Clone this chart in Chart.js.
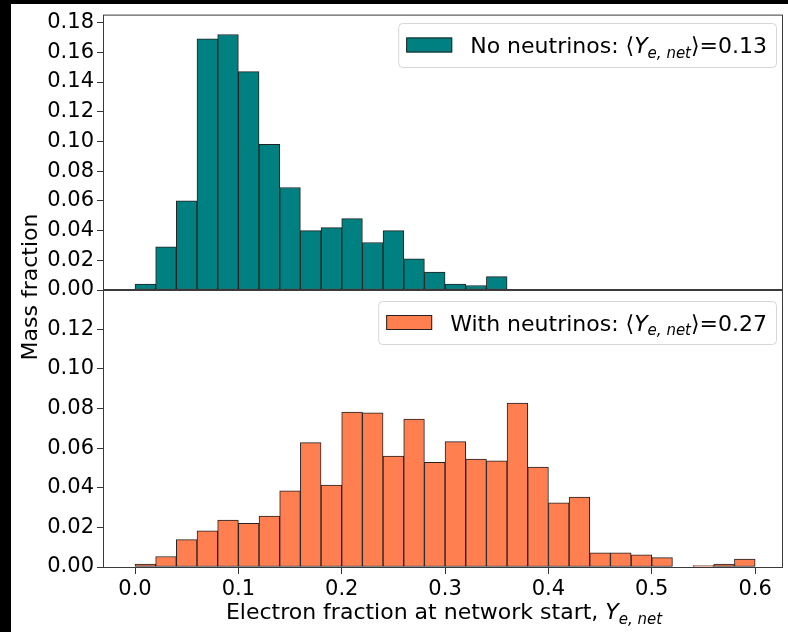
<!DOCTYPE html>
<html>
<head>
<meta charset="utf-8">
<script src="https://cdn.jsdelivr.net/npm/chart.js@4"></script>
<style>
  html, body { margin: 0; padding: 0; background: #fff; }
  #wrap { position: relative; width: 788px; height: 632px; overflow: hidden; background: #fff; }
  #wrap canvas { position: absolute; left: 0; top: 0; }
  .edge { position: absolute; background: #000; }
</style>
</head>
<body>
<div id="wrap">
  <div class="edge" style="left:0;top:0;width:11px;height:632px"></div>
  <div class="edge" style="left:0;top:0;width:788px;height:4px"></div>
  <canvas id="topChart" width="788" height="632"></canvas>
  <canvas id="bottomChart" width="788" height="632"></canvas>
</div>
<script>
// bin centres (bins are 0.02 wide, from 0.0 to 0.6)
const binCenters = [0.01, 0.03, 0.05, 0.07, 0.09, 0.11, 0.13, 0.15, 0.17, 0.19,
                    0.21, 0.23, 0.25, 0.27, 0.29, 0.31, 0.33, 0.35, 0.37, 0.39,
                    0.41, 0.43, 0.45, 0.47, 0.49, 0.51, 0.53, 0.55, 0.57, 0.59];

const noNeutrinos = [0.004, 0.029, 0.060, 0.169, 0.172, 0.147, 0.098, 0.069, 0.040, 0.042,
                     0.048, 0.032, 0.040, 0.021, 0.012, 0.004, 0.003, 0.009, 0, 0,
                     0, 0, 0, 0, 0, 0, 0, 0, 0, 0];

const withNeutrinos = [0.0015, 0.0053, 0.0138, 0.0182, 0.0237, 0.0220, 0.0257, 0.0385, 0.0628, 0.0413,
                       0.0782, 0.0778, 0.0560, 0.0746, 0.0528, 0.0633, 0.0545, 0.0536, 0.0827, 0.0504,
                       0.0324, 0.0353, 0.0071, 0.0071, 0.0062, 0.0047, 0, 0.0007, 0.0015, 0.0040];

const xTicks = [0.0, 0.1, 0.2, 0.3, 0.4, 0.5, 0.6];
const yTicksTop = [0.00, 0.02, 0.04, 0.06, 0.08, 0.10, 0.12, 0.14, 0.16, 0.18];
const yTicksBottom = [0.00, 0.02, 0.04, 0.06, 0.08, 0.10, 0.12];

const FONT = 'DejaVu Sans';

function toPoints(vals) {
    return binCenters.map((x, i) => ({ x: x, y: vals[i] }));
}

// "text ⟨Y_{e,net}⟩=val" pieces, like matplotlib mathtext
function mathParts(prefix, suffix) {
    return [
        { t: prefix }, { t: '⟨' }, { t: 'Y', it: true },
        { t: 'e, net', it: true, sub: true }, { t: '⟩' + suffix }
    ];
}

function partFont(p, size) {
    const s = p.sub ? Math.round(size * 0.7) : size;
    return (p.it ? 'italic ' : '') + s + 'px "' + FONT + '"';
}

function measureParts(ctx, parts, size) {
    let w = 0;
    parts.forEach(p => { ctx.font = partFont(p, size); w += ctx.measureText(p.t).width; });
    return w;
}

function drawParts(ctx, parts, x, y, size) {
    ctx.textAlign = 'left';
    ctx.textBaseline = 'alphabetic';
    parts.forEach(p => {
        ctx.font = partFont(p, size);
        ctx.fillText(p.t, x, p.sub ? y + size * 0.22 : y);
        x += ctx.measureText(p.t).width;
    });
}

function drawLegend(ctx, parts, color, boxTop, boxBottom) {
    const size = 22;
    const right = 776;
    const tw = measureParts(ctx, parts, size);
    const textX = right - 9 - tw;
    const patchX = textX - 18 - 46;
    const left = patchX - 8;
    ctx.save();
    ctx.beginPath();
    ctx.roundRect(left + 0.5, boxTop + 0.5, right - left, boxBottom - boxTop, 4);
    ctx.fillStyle = 'rgba(255,255,255,0.8)';
    ctx.fill();
    ctx.strokeStyle = '#d6d6d6';
    ctx.lineWidth = 1;
    ctx.stroke();
    const mid = (boxTop + boxBottom) / 2;
    ctx.fillStyle = color;
    ctx.fillRect(patchX, mid - 7.5, 46, 15);
    ctx.strokeStyle = '#222';
    ctx.strokeRect(patchX + 0.5, mid - 7.5 + 0.5, 45, 14);
    ctx.fillStyle = '#000';
    drawParts(ctx, parts, textX, mid + 8, size);
    ctx.restore();
}

const framePlugin = {
    id: 'frame',
    afterDatasetsDraw(chart) {
        const { ctx, chartArea: a } = chart;
        ctx.save();
        ctx.strokeStyle = '#3a3a3a';
        ctx.lineWidth = 1;
        ctx.strokeRect(a.left - 0.5, a.top - 0.5, a.right - a.left + 1, a.bottom - a.top + 1);
        ctx.restore();
    }
};

function histOptions(yMax, yTicks, padding, showX) {
    return {
        responsive: false,
        animation: false,
        devicePixelRatio: 1,
        layout: { padding: padding },
        plugins: { legend: { display: false }, tooltip: { enabled: false } },
        scales: {
            x: {
                type: 'linear',
                display: showX,
                offset: false,
                min: -0.03,
                max: 0.626,
                afterBuildTicks: s => { s.ticks = xTicks.map(v => ({ value: v })); },
                afterFit: s => { if (showX) s.height = 65; },
                ticks: {
                    color: '#000',
                    padding: 3,
                    maxRotation: 0,
                    autoSkip: false,
                    font: { family: FONT, size: 21 },
                    callback: v => v.toFixed(1)
                },
                grid: { offset: false, drawOnChartArea: false, tickLength: 7, color: '#333' },
                border: { display: false }
            },
            y: {
                min: 0,
                max: yMax,
                afterBuildTicks: s => { s.ticks = yTicks.map(v => ({ value: v })); },
                afterFit: s => { s.width = 104; },
                ticks: {
                    color: '#000',
                    padding: 3,
                    autoSkip: false,
                    font: { family: FONT, size: 21 },
                    callback: v => v.toFixed(2)
                },
                grid: { drawOnChartArea: false, tickLength: 7, color: '#333' },
                border: { display: false }
            }
        }
    };
}

function barDataset(label, vals, color) {
    return {
        label: label,
        data: toPoints(vals),
        backgroundColor: color,
        borderColor: '#222',
        borderWidth: 1,
        borderSkipped: false,
        barPercentage: 1.0,
        categoryPercentage: 1.0
    };
}

new Chart(document.getElementById('topChart'), {
    type: 'bar',
    data: { datasets: [barDataset('No neutrinos', noNeutrinos, '#008080')] },
    options: histOptions(0.1847, yTicksTop, { left: 0, top: 12, right: 6, bottom: 342 }, false),
    plugins: [framePlugin, {
        id: 'topLegend',
        afterDraw(chart) {
            drawLegend(chart.ctx, mathParts('No neutrinos: ', '=0.13'), '#008080', 23, 67);
        }
    }]
});

new Chart(document.getElementById('bottomChart'), {
    type: 'bar',
    data: { datasets: [barDataset('With neutrinos', withNeutrinos, '#ff7f50')] },
    options: histOptions(0.1398, yTicksBottom, { left: 0, top: 290, right: 6, bottom: 0 }, true),
    plugins: [framePlugin, {
        id: 'bottomLegendAndTitles',
        afterDraw(chart) {
            const ctx = chart.ctx;
            drawLegend(ctx, mathParts('With neutrinos: ', '=0.27'), '#ff7f50', 301, 344);

            // x axis title
            const xParts = [{ t: 'Electron fraction at network start, ' }, { t: 'Y', it: true },
                            { t: 'e, net', it: true, sub: true }];
            const w = measureParts(ctx, xParts, 22);
            ctx.fillStyle = '#000';
            drawParts(ctx, xParts, 444 - w / 2, 619, 22);

            // y axis title
            ctx.save();
            ctx.translate(37, 287);
            ctx.rotate(-Math.PI / 2);
            ctx.font = '22px "' + FONT + '"';
            ctx.textAlign = 'center';
            ctx.textBaseline = 'alphabetic';
            ctx.fillText('Mass fraction', 0, 0);
            ctx.restore();
        }
    }]
});
</script>
</body>
</html>
